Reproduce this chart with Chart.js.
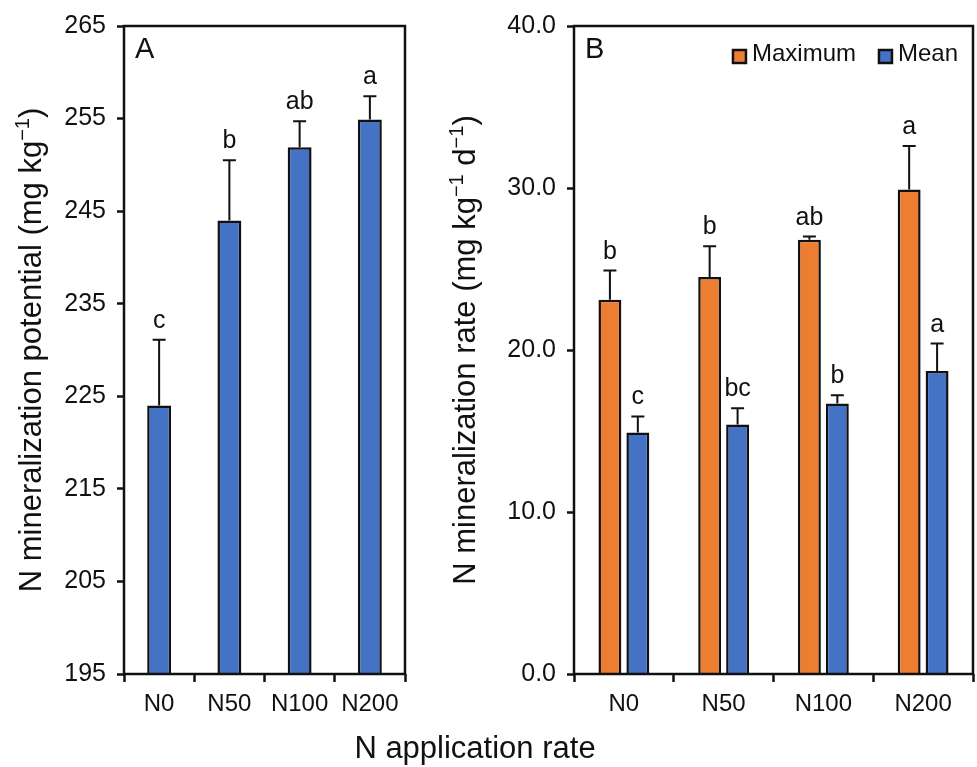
<!DOCTYPE html>
<html>
<head>
<meta charset="utf-8">
<script src="https://cdn.jsdelivr.net/npm/chart.js@4.4.0/dist/chart.umd.min.js"></script>
<style>
  body { margin: 0; background: #fff; width: 977px; height: 767px; position: relative; overflow: hidden; font-family: "Liberation Sans", Arial, sans-serif; }
  #wa { position: absolute; left: 0; top: 0; width: 440px; height: 767px; }
  #wb { position: absolute; left: 440px; top: 0; width: 537px; height: 767px; }
  #xt { position: absolute; left: 275px; width: 400px; text-align: center; top: 730px; font-size: 31px; line-height: 36px; color: #111; white-space: nowrap; font-family: "Liberation Sans", Arial, sans-serif; }
</style>
</head>
<body>
<div id="wa"><canvas id="chartA"></canvas></div>
<div id="wb"><canvas id="chartB"></canvas></div>
<div id="xt">N application rate</div>
<script>
// data
const categories = ['N0', 'N50', 'N100', 'N200'];

const potential = [224.0, 244.0, 251.9, 254.9];
const potentialErr = [7.1, 6.5, 2.8, 2.5];
const potentialLetters = ['c', 'b', 'ab', 'a'];

const rateMax = [23.1, 24.5, 26.8, 29.9];
const rateMaxErr = [1.8, 1.9, 0.2, 2.7];
const rateMaxLetters = ['b', 'b', 'ab', 'a'];
const rateMean = [14.9, 15.4, 16.7, 18.7];
const rateMeanErr = [1.0, 1.0, 0.5, 1.7];
const rateMeanLetters = ['c', 'bc', 'b', 'a'];

const ticksA = [195, 205, 215, 225, 235, 245, 255, 265];
const ticksB = [0, 10, 20, 30, 40];

const FONT = '"Liberation Sans", Arial, sans-serif';
const ORANGE = '#ED7D31';
const BLUE = '#4472C4';

// error bars + letters + frame + titles
const extras = {
  id: 'extras',
  afterDatasetsDraw(chart, args, opts) {
    const ctx = chart.ctx;
    const y = chart.scales.y;
    const a = chart.chartArea;
    ctx.save();
    chart.data.datasets.forEach((ds, i) => {
      const meta = chart.getDatasetMeta(i);
      meta.data.forEach((bar, j) => {
        const top = y.getPixelForValue(ds.data[j] + ds.err[j]);
        ctx.strokeStyle = '#111';
        ctx.lineWidth = 2;
        ctx.beginPath();
        ctx.moveTo(bar.x, bar.y);
        ctx.lineTo(bar.x, top);
        ctx.moveTo(bar.x - 6.5, top);
        ctx.lineTo(bar.x + 6.5, top);
        ctx.stroke();
        ctx.fillStyle = '#111';
        ctx.font = '25px ' + FONT;
        ctx.textAlign = 'center';
        ctx.textBaseline = 'alphabetic';
        ctx.fillText(ds.letters[j], bar.x, top - 12);
      });
    });
    // frame
    ctx.strokeStyle = '#111';
    ctx.lineWidth = 2.5;
    ctx.strokeRect(a.left, a.top, a.right - a.left, a.bottom - a.top);
    // panel letter
    ctx.fillStyle = '#111';
    ctx.font = '29px ' + FONT;
    ctx.textAlign = 'left';
    ctx.textBaseline = 'alphabetic';
    ctx.fillText(opts.panel, a.left + 11, a.top + 32);
    // y title with superscripts
    const segs = opts.title;
    const big = '31px ' + FONT, small = '20px ' + FONT;
    let total = 0;
    segs.forEach(s => { ctx.font = s[1] ? small : big; total += ctx.measureText(s[0]).width; });
    ctx.translate(opts.titleX, (a.top + a.bottom) / 2);
    ctx.rotate(-Math.PI / 2);
    let x = -total / 2;
    segs.forEach(s => {
      ctx.font = s[1] ? small : big;
      ctx.fillText(s[0], x, s[1] ? -12 : 0);
      x += ctx.measureText(s[0]).width;
    });
    ctx.restore();
    // legend
    if (opts.legend) {
      ctx.save();
      ctx.font = '24px ' + FONT;
      ctx.textBaseline = 'alphabetic';
      let rx = a.right - 15;
      const dss = chart.data.datasets.slice().reverse();
      dss.forEach(ds => {
        const w = ctx.measureText(ds.label).width;
        const tx = rx - w;
        ctx.fillStyle = '#111';
        ctx.textAlign = 'left';
        ctx.fillText(ds.label, tx, a.top + 35);
        ctx.fillStyle = ds.backgroundColor;
        ctx.fillRect(tx - 19, a.top + 24, 13, 13);
        ctx.lineWidth = 2.5;
        ctx.strokeStyle = '#111';
        ctx.strokeRect(tx - 19, a.top + 24, 13, 13);
        rx = tx - 19 - 23;
      });
      ctx.restore();
    }
  }
};

function axes(min, max, tickVals, fmt, yWidth) {
  return {
    x: {
      offset: true,
      grid: { display: true, offset: true, drawOnChartArea: false, drawTicks: true, tickLength: 8, tickWidth: 2.5, tickColor: '#111' },
      border: { display: false },
      ticks: { color: '#111', font: { family: FONT, size: 24 }, padding: 8, maxRotation: 0 },
      afterFit(s) { s.height = 93; }
    },
    y: {
      min: min, max: max,
      grid: { drawOnChartArea: false, tickLength: 7, tickWidth: 2.5, tickColor: '#111' },
      border: { display: false },
      afterBuildTicks(s) { s.ticks = tickVals.map(v => ({ value: v })); },
      ticks: { color: '#111', font: { family: FONT, size: 25 }, padding: 11, callback: fmt },
      afterFit(s) { s.width = yWidth; }
    }
  };
}

new Chart(document.getElementById('chartA'), {
  type: 'bar',
  data: {
    labels: categories,
    datasets: [{
      label: 'N mineralization potential',
      data: potential, err: potentialErr, letters: potentialLetters,
      backgroundColor: BLUE, borderColor: '#111', borderWidth: 2.5,
      barPercentage: 0.34, categoryPercentage: 1
    }]
  },
  options: {
    responsive: true, maintainAspectRatio: false, animation: false,
    layout: { padding: { left: 0, right: 35, top: 22, bottom: 0 } },
    scales: axes(195, 265, ticksA, v => String(v), 124),
    plugins: {
      legend: { display: false }, tooltip: { enabled: false },
      extras: { panel: 'A', titleX: 41, title: [['N mineralization potential (mg kg', false], ['\u22121', true], [')', false]] }
    }
  },
  plugins: [extras]
});

new Chart(document.getElementById('chartB'), {
  type: 'bar',
  data: {
    labels: categories,
    datasets: [{
      label: 'Maximum',
      data: rateMax, err: rateMaxErr, letters: rateMaxLetters,
      backgroundColor: ORANGE, borderColor: '#111', borderWidth: 2.5,
      barPercentage: 0.82, categoryPercentage: 0.56
    }, {
      label: 'Mean',
      data: rateMean, err: rateMeanErr, letters: rateMeanLetters,
      backgroundColor: BLUE, borderColor: '#111', borderWidth: 2.5,
      barPercentage: 0.82, categoryPercentage: 0.56
    }]
  },
  options: {
    responsive: true, maintainAspectRatio: false, animation: false,
    layout: { padding: { left: 0, right: 4, top: 22, bottom: 0 } },
    scales: axes(0, 40, ticksB, v => Number(v).toFixed(1), 134),
    plugins: {
      legend: { display: false }, tooltip: { enabled: false },
      extras: { panel: 'B', titleX: 35, legend: true, title: [['N mineralization rate (mg kg', false], ['\u22121', true], [' d', false], ['\u22121', true], [')', false]] }
    }
  },
  plugins: [extras]
});
</script>
</body>
</html>
